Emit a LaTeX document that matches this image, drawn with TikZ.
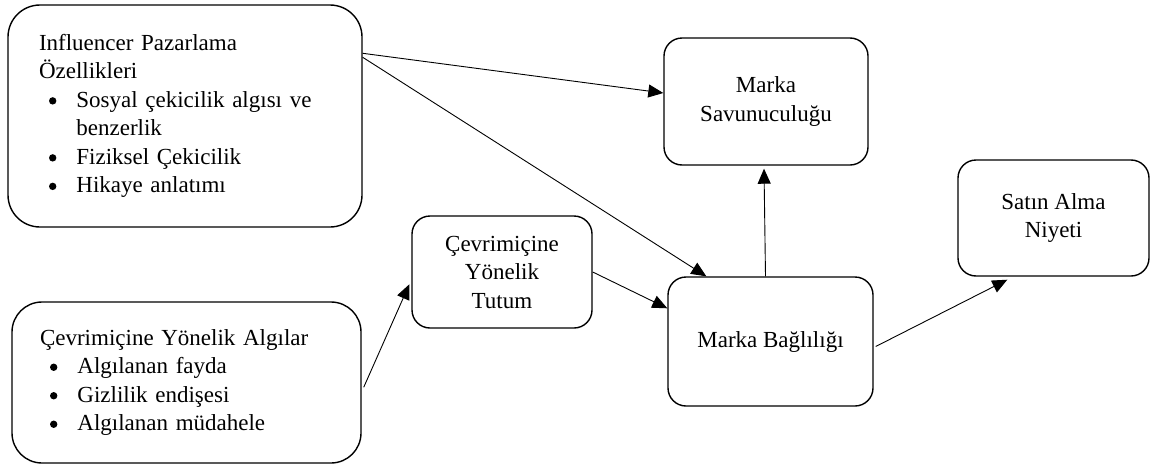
\documentclass[tikz,border=0pt]{standalone}
\usepackage{fontspec}
\setmainfont{Liberation Serif}
\usetikzlibrary{arrows.meta,calc}
\newcommand\mybul{\hspace*{10pt}\tikz[x=1pt,y=1pt,baseline=-6.5pt]\fill (0,0) circle[radius=3.7pt];\hspace{20pt}}
\begin{document}
\begin{tikzpicture}[x=1pt,y=-1pt,
  every node/.style={font=\fontsize{23}{28.5}\selectfont},
  box/.style={draw,line width=1.4pt,rounded corners=18pt,align=center,inner sep=0pt},
  bigbox/.style={draw,line width=1.4pt,rounded corners=32pt,align=left,inner ysep=0pt},
  conn/.style={line width=0.9pt,-{Triangle[length=15pt,width=13pt]}}]
\useasboundingbox (0,0) rectangle (1150,466);
\node[bigbox,minimum width=354pt,minimum height=222pt,inner xsep=31pt,text width=292pt] (inf) at (185,116)
 {Influencer Pazarlama\\Özellikleri\\
  \mybul Sosyal çekicilik algısı ve\\
  \hspace*{37.4pt}benzerlik\\
  \mybul Fiziksel Çekicilik\\
  \mybul Hikaye anlatımı};
\node[bigbox,rounded corners=30pt,minimum width=349pt,minimum height=161pt,inner xsep=28pt,text width=293pt] (alg) at (186.5,382.5)
 {Çevrimiçine Yönelik Algılar\\
  \mybul Algılanan fayda\\
  \mybul Gizlilik endişesi\\
  \mybul Algılanan müdahele};
\node[box,minimum width=180pt,minimum height=112pt] (tut) at (502,272) {Çevrimiçine\\Yönelik\\Tutum};
\node[box,minimum width=204pt,minimum height=127pt] (sav) at (766,101.5) {Marka\\Savunuculuğu};
\node[box,minimum width=205pt,minimum height=129pt] (bag) at (770.5,341.5) {Marka Bağlılığı};
\node[box,minimum width=191pt,minimum height=116pt] (sat) at (1053.5,218) {Satın Alma\\Niyeti};
\draw[conn] ($(inf.north east)+(0,49)$) -- ($(sav.west)+(0,-8.5)$);
\draw[conn] ($(inf.north east)+(0,53)$) -- ($(bag.north west)+(39,0)$);
\draw[conn] ($(alg.north east)+(2,86)$) -- ($(tut.north west)+(-2,69)$);
\draw[conn] (tut.east) -- ($(bag.north west)+(0,32)$);
\draw[conn] ($(bag.north)+(-5,0)$) -- ($(sav.south)+(-2,3)$);
\draw[conn] ($(bag.east)+(2,5)$) -- ($(sat.south west)+(50,3)$);
\end{tikzpicture}
\end{document}
